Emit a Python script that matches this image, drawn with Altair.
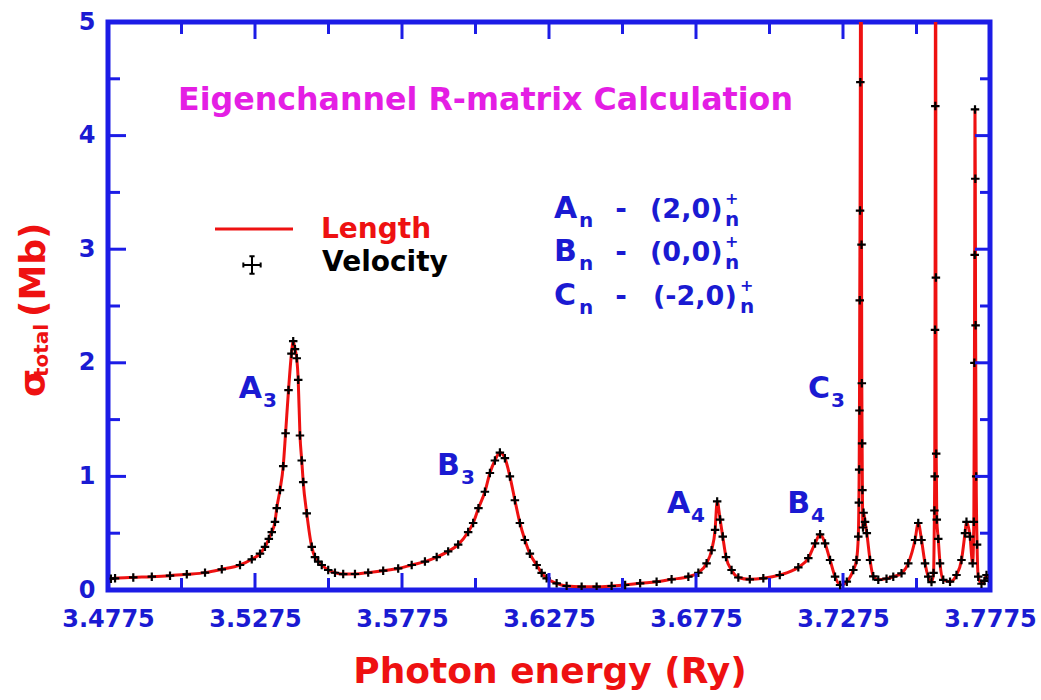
import altair as alt
import pandas as pd

# Photon energy (Ry) and total photoionization cross section (Mb)
energy = [
    3.4785, 3.4799, 3.4861, 3.4924, 3.4986, 3.5043, 3.5105, 3.5162, 3.5224, 3.5264,
    3.5292, 3.5309, 3.5322, 3.5332, 3.5343, 3.5349, 3.5360, 3.5371, 3.5379, 3.5389,
    3.5399, 3.5405, 3.5411, 3.5417, 3.5422, 3.5428, 3.5434, 3.5439, 3.5451, 3.5468,
    3.5479, 3.5490, 3.5502, 3.5524, 3.5547, 3.5575, 3.5615, 3.5660, 3.5711, 3.5762,
    3.5808, 3.5853, 3.5893, 3.5932, 3.5966, 3.6000, 3.6017, 3.6035, 3.6057, 3.6074,
    3.6091, 3.6108, 3.6125, 3.6142, 3.6159, 3.6176, 3.6193, 3.6210, 3.6233, 3.6250,
    3.6267, 3.6301, 3.6335, 3.6386, 3.6437, 3.6488, 3.6534, 3.6585, 3.6641, 3.6692,
    3.6749, 3.6783, 3.6811, 3.6828, 3.6840, 3.6847, 3.6857, 3.6866, 3.6877, 3.6896,
    3.6919, 3.6958, 3.7004, 3.7060, 3.7123, 3.7157, 3.7180, 3.7197, 3.7214, 3.7231,
    3.7248, 3.7265, 3.7288, 3.7310, 3.7321, 3.7327, 3.7329, 3.7330, 3.7331, 3.7332,
    3.7333, 3.7334, 3.7336, 3.7338, 3.7339, 3.7340, 3.7341, 3.7343, 3.7345, 3.7350,
    3.7356, 3.7367, 3.7378, 3.7395, 3.7423, 3.7446, 3.7474, 3.7497, 3.7520, 3.7531,
    3.7542, 3.7554, 3.7565, 3.7576, 3.7583, 3.7586, 3.7587, 3.7588, 3.7589, 3.7590,
    3.7591, 3.7592, 3.7594, 3.7599, 3.7605, 3.7616, 3.7639, 3.7661, 3.7678, 3.7690,
    3.7695, 3.7707, 3.7716, 3.7720, 3.7722, 3.7723, 3.7724, 3.7725, 3.7726, 3.7728,
    3.7731, 3.7735, 3.7746, 3.7756, 3.7763, 3.7772,
]
sigma = [
    0.100, 0.103, 0.111, 0.117, 0.126, 0.138, 0.153, 0.182, 0.220, 0.270,
    0.320, 0.380, 0.450, 0.510, 0.600, 0.720, 0.880, 1.090, 1.380, 1.760,
    2.080, 2.190, 2.120, 2.040, 1.850, 1.360, 1.140, 0.950, 0.675, 0.380,
    0.290, 0.250, 0.220, 0.176, 0.152, 0.140, 0.141, 0.153, 0.170, 0.190,
    0.220, 0.250, 0.290, 0.340, 0.400, 0.510, 0.590, 0.720, 0.865, 1.030,
    1.140, 1.210, 1.160, 1.000, 0.790, 0.590, 0.440, 0.320, 0.220, 0.150,
    0.103, 0.059, 0.035, 0.029, 0.029, 0.035, 0.044, 0.059, 0.073, 0.094,
    0.117, 0.152, 0.235, 0.350, 0.530, 0.780, 0.620, 0.470, 0.290, 0.176,
    0.110, 0.094, 0.103, 0.132, 0.200, 0.280, 0.410, 0.490, 0.410, 0.264,
    0.117, 0.044, 0.073, 0.176, 0.264, 0.470, 0.770, 1.060, 1.580, 2.550,
    3.340, 4.470, 9.000, 3.040, 1.820, 1.290, 0.880, 0.550, 0.680, 0.600,
    0.500, 0.264, 0.120, 0.090, 0.100, 0.117, 0.147, 0.235, 0.440, 0.590,
    0.440, 0.235, 0.117, 0.070, 0.150, 0.700, 1.000, 2.290, 4.260, 9.000,
    2.750, 1.200, 0.620, 0.450, 0.235, 0.090, 0.073, 0.132, 0.264, 0.500,
    0.600, 0.470, 0.235, 0.600, 2.000, 2.950, 4.230, 3.620, 2.330, 1.000,
    0.400, 0.117, 0.055, 0.080, 0.132, 0.100,
]

# Axis ticks
x_major = [3.4775, 3.5275, 3.5775, 3.6275, 3.6775, 3.7275, 3.7775]
x_minor = [3.5025, 3.5525, 3.6025, 3.6525, 3.7025, 3.7525]
y_major = [0, 1, 2, 3, 4, 5]
y_minor = [0.5, 1.5, 2.5, 3.5, 4.5]

# Resonance labels: letter, index, anchor energy, baseline cross section
peak_letter = ["A", "B", "A", "B", "C"]
peak_index = ["3", "3", "4", "4", "3"]
peak_x = [3.5299, 3.5972, 3.6755, 3.7163, 3.7231]
peak_y = [1.69, 1.012, 0.678, 0.678, 1.69]

W, H = 882, 568
FONT = "DejaVu Sans"
BLUE = "#1a1ad2"
FRAME = "#1c1ce6"
RED = "#ee1111"
MAGENTA = "#e41ee4"

xs = alt.Scale(domain=[3.4775, 3.7775], nice=False, zero=False)
ys = alt.Scale(domain=[0, 5], nice=False, zero=False)

x_axis = alt.Axis(values=x_major, format=".4f", title=None, grid=False, ticks=False,
                  tickSize=0, domain=False, labelFont=FONT, labelFontSize=24,
                  labelFontWeight="bold", labelColor=BLUE, labelPadding=17,
                  labelFlush=False, labelOverlap=False)
y_axis = alt.Axis(values=y_major, format="d", title=None, grid=False, ticks=False,
                  tickSize=0, domain=False, labelFont=FONT, labelFontSize=24,
                  labelFontWeight="bold", labelColor=BLUE, labelPadding=13,
                  labelFlush=False, labelOverlap=False)

X = alt.X("energy:Q", scale=xs, axis=x_axis)
Y = alt.Y("sigma:Q", scale=ys, axis=y_axis)

curve = pd.DataFrame({"energy": energy, "sigma": sigma})

length_line = alt.Chart(curve).mark_line(
    color=RED, strokeWidth=3, clip=True, interpolate="monotone"
).encode(x=X, y=Y)

PLUS = "M-1,0L1,0M0,-1L0,1"
velocity_pts = alt.Chart(curve).mark_point(
    shape=PLUS, size=72, color="black", strokeWidth=2.2, filled=False, opacity=1, clip=True
).encode(x=X, y=Y)


def x_ticks(values, length, top):
    df = pd.DataFrame({"energy": values})
    y0, y1 = (0, length) if top else (H, H - length)
    return alt.Chart(df).mark_rule(color=FRAME, strokeWidth=3).encode(
        x=X, y=alt.value(y0), y2=alt.value(y1))


def y_ticks(values, length, right):
    df = pd.DataFrame({"sigma": values})
    x0, x1 = (W, W - length) if right else (0, length)
    return alt.Chart(df).mark_rule(color=FRAME, strokeWidth=3).encode(
        y=Y, x=alt.value(x0), x2=alt.value(x1))


ticks = [
    x_ticks(x_major, 17, False), x_ticks(x_minor, 12, False),
    x_ticks(x_major, 17, True), x_ticks(x_minor, 12, True),
    y_ticks(y_major, 18, False), y_ticks(y_minor, 12, False),
    y_ticks(y_major, 15, True), y_ticks(y_minor, 10, True),
]


def text(s, x, y, size, color, align="left", angle=0):
    return alt.Chart(pd.DataFrame({"t": [s]})).mark_text(
        font=FONT, fontWeight="bold", fontSize=size, color=color, align=align,
        baseline="alphabetic", angle=angle
    ).encode(text="t:N", x=alt.value(x), y=alt.value(y))


labels = pd.DataFrame({"energy": peak_x, "sigma": peak_y,
                       "letter": peak_letter, "index": peak_index})
peak_main = alt.Chart(labels).mark_text(
    font=FONT, fontWeight="bold", fontSize=30, color=BLUE, align="right", baseline="alphabetic"
).encode(x=X, y=Y, text="letter:N")
peak_sub = alt.Chart(labels).mark_text(
    font=FONT, fontWeight="bold", fontSize=20, color=BLUE, align="left", baseline="alphabetic",
    dx=1, dy=9
).encode(x=X, y=Y, text="index:N")

annotations = [
    text("Eigenchannel R-matrix Calculation", 70, 88, 31.7, MAGENTA),
    # legend
    text("Length", 213, 216, 28, RED),
    text("Velocity", 214, 249, 28, "black"),
    # axis titles
    text("Photon energy (Ry)", 442, 661, 36, RED, align="center"),
    text("σ", -63, 375, 36, RED, angle=270),
    text("total", -60, 355, 20, RED, angle=270),
    text("(Mb)", -63, 295, 36, RED, angle=270),
]

# resonance series notation: letter, pair, pair start, pair end, baseline
rows = [("A", "(2,0)", 542, 615, 196), ("B", "(0,0)", 542, 615, 239),
        ("C", "(-2,0)", 545, 630, 283)]
for letter, pair, x0, x1, base in rows:
    annotations += [
        text(letter, 446, base, 30, BLUE),
        text("n", 471, base + 9, 20, BLUE),
        text("-", 513, base, 28, BLUE, align="center"),
        text(pair, x0, base, 27, BLUE),
        text("+", x1 + 2, base - 14, 16, BLUE),
        text("n", x1 + 2, base + 8, 20, BLUE),
    ]

legend_line = alt.Chart(pd.DataFrame({"k": [0]})).mark_rule(color=RED, strokeWidth=3).encode(
    x=alt.value(107), x2=alt.value(185), y=alt.value(207))
legend_cross = alt.Chart(pd.DataFrame({"k": [0]})).mark_point(
    shape="M-1,0L1,0M0,-1L0,1M-1,-0.3L-1,0.3M1,-0.3L1,0.3M-0.3,-1L0.3,-1M-0.3,1L0.3,1",
    size=300, color="black", strokeWidth=2, filled=False, opacity=1
).encode(x=alt.value(144), y=alt.value(243))

chart = alt.layer(
    length_line, velocity_pts, *ticks, peak_main, peak_sub,
    legend_line, legend_cross, *annotations
).properties(
    width=W, height=H,
    padding={"left": 108, "top": 22, "right": 51, "bottom": 110},
    autosize=alt.AutoSizeParams(type="none"),
    background="white",
).configure_view(stroke=FRAME, strokeWidth=5)

chart.save("out.html", embed_options={"renderer": "svg", "actions": False})
